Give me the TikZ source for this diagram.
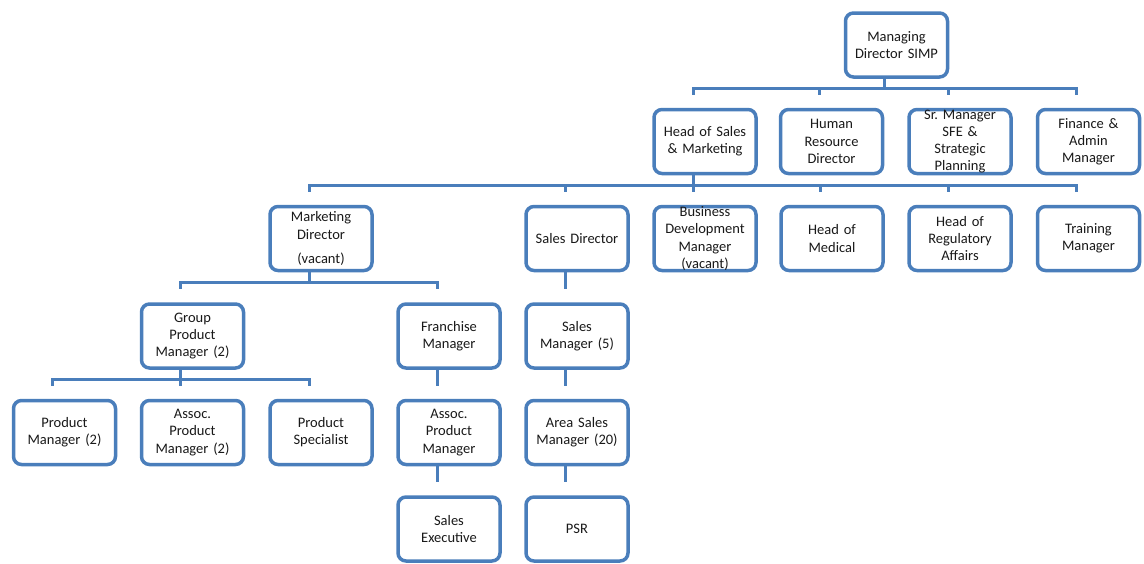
\documentclass[tikz,border=0pt]{standalone}
\usepackage{fontspec}
\setmainfont{Carlito}
\frenchspacing
\usetikzlibrary{calc}
\definecolor{orgblue}{RGB}{74,126,187}
\definecolor{orgtext}{RGB}{25,25,25}
\tikzset{
  box/.style={draw=orgblue, line width=3.5pt, rounded corners=8pt, fill=white,
    minimum width=102pt, minimum height=64pt, inner sep=0pt,
    text width=100pt, align=center, text=orgtext,
    font=\fontsize{14.5}{17.2}\selectfont},
  conn/.style={draw=orgblue, line width=3pt}
}
\newcommand\orgedge[2]{\draw[conn] ($(#1.south)+(-12,0)$) |- ($(#2.north)+(-12,-19.5)$) -- ($(#2.north)+(-12,-13)$);}
\begin{document}
\begin{tikzpicture}[x=1pt,y=-1pt]
\useasboundingbox (0,0) rectangle (1144,563);
% level 1
\node[box] (mdir) at (896.5,45) {Managing\\Director SIMP};
% level 2
\node[box] (hsm) at (705,141.5) {Head of Sales\\\& Marketing};
\node[box] (hr) at (831.5,141.5) {Human\\Resource\\Director};
\node[box] (sfe) at (960,141.5) {Sr. Manager\\SFE \&\\Strategic\\Planning};
\node[box] (fin) at (1088.5,141.5) {Finance \&\\Admin\\Manager};
% level 3
\node[box] (mkt) at (321,238.5) {Marketing\\Director\\[7pt](vacant)};
\node[box] (sd) at (577,238.5) {Sales Director};
\node[box] (bd) at (705,238.5) {Business\\Development\\Manager\\(vacant)};
\node[box] (med) at (832,238.5) {Head of\\Medical};
\node[box] (reg) at (960,238.5) {Head of\\Regulatory\\Affairs};
\node[box] (tr) at (1088.5,238.5) {Training\\Manager};
% level 4
\node[box] (gpm) at (192.5,336) {Group\\Product\\Manager (2)};
\node[box] (fr) at (449,336) {Franchise\\Manager};
\node[box] (sm) at (577,336) {Sales\\Manager (5)};
% level 5
\node[box] (pm) at (64.5,432.5) {Product\\Manager (2)};
\node[box] (apmb) at (192.5,432.5) {Assoc.\\Product\\Manager (2)};
\node[box] (ps) at (321,432.5) {Product\\Specialist};
\node[box] (apm) at (449,432.5) {Assoc.\\Product\\Manager};
\node[box] (asm) at (577,432.5) {Area Sales\\Manager (20)};
% level 6
\node[box] (se) at (449,529) {Sales\\Executive};
\node[box] (psr) at (577,529) {PSR};
% connectors
\orgedge{mdir}{hsm}
\orgedge{mdir}{hr}
\orgedge{mdir}{sfe}
\orgedge{mdir}{fin}
\orgedge{hsm}{mkt}
\orgedge{hsm}{sd}
\orgedge{hsm}{bd}
\orgedge{hsm}{med}
\orgedge{hsm}{reg}
\orgedge{hsm}{tr}
\orgedge{mkt}{gpm}
\orgedge{mkt}{fr}
\orgedge{sd}{sm}
\orgedge{gpm}{pm}
\orgedge{gpm}{apmb}
\orgedge{gpm}{ps}
\orgedge{fr}{apm}
\orgedge{sm}{asm}
\orgedge{apm}{se}
\orgedge{asm}{psr}
\end{tikzpicture}
\end{document}
